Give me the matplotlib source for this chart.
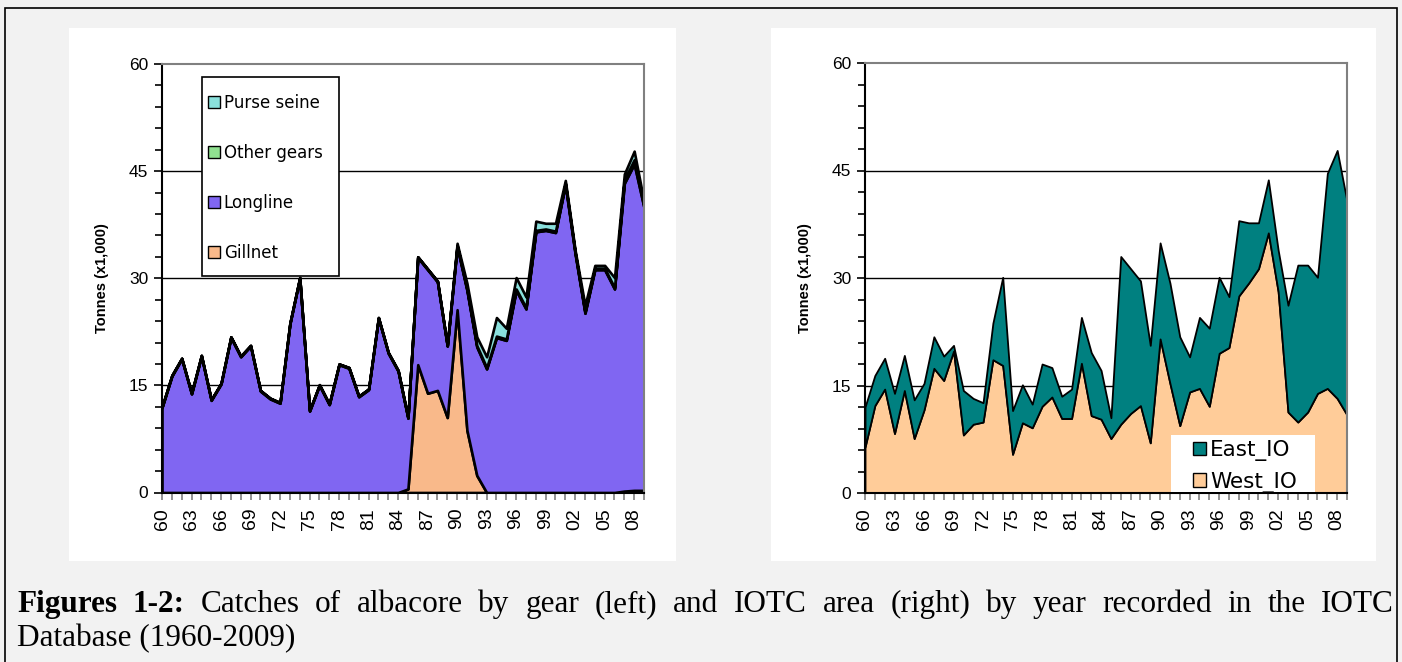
import numpy as np
import matplotlib.pyplot as plt
from matplotlib.patches import Rectangle, Patch

# Datos (miles de toneladas), 1960-2009
years = list(range(1960, 2010))

gillnet = [0.0] * 25 + [0.5, 17.9, 13.9, 14.3, 10.5, 25.6, 8.7, 2.4] + [0.0] * 14 + [0.2, 0.3, 0.3]

longline = [11.9, 16.3, 18.7, 13.8, 19.1, 12.9, 15.2, 21.7, 19.0, 20.5,
            14.2, 13.1, 12.5, 23.6, 30.0, 11.4, 15.0, 12.3, 17.9, 17.4,
            13.4, 14.4, 24.4, 19.5, 17.0, 9.9, 15.0, 17.3, 15.2, 10.0,
            8.8, 19.6, 18.0, 17.3, 21.7, 21.3, 28.3, 25.7, 36.5, 36.7,
            36.4, 43.1, 33.4, 25.1, 31.2, 31.2, 28.5, 43.1, 45.7, 39.6]

other_gears = [0.1] * 30 + [0.2] * 17 + [0.5, 0.6, 0.3]

purse_seine = [0.0] * 30 + [0.3, 0.8, 1.2, 1.5, 2.6, 1.5, 1.6, 1.5, 1.3, 0.8,
                            1.1, 0.4, 0.3, 0.9, 0.4, 0.4, 1.4, 0.8, 1.2, 0.5]

west_io = [6.4, 12.2, 14.5, 8.3, 14.3, 7.6, 11.6, 17.4, 15.7, 19.8,
           8.1, 9.6, 9.9, 18.6, 17.8, 5.4, 9.8, 9.1, 12.1, 13.4,
           10.4, 10.4, 18.1, 10.8, 10.3, 7.6, 9.6, 11.1, 12.2, 7.0,
           21.5, 15.3, 9.4, 14.1, 14.6, 12.1, 19.5, 20.3, 27.5, 29.3,
           31.3, 36.3, 28.1, 11.3, 9.9, 11.3, 13.9, 14.6, 13.2, 10.9]

east_io = [5.6, 4.2, 4.3, 5.6, 4.9, 5.4, 3.7, 4.4, 3.4, 0.8,
           6.2, 3.6, 2.7, 5.1, 12.3, 6.1, 5.3, 3.3, 5.9, 4.1,
           3.1, 4.1, 6.4, 8.8, 6.8, 2.9, 23.4, 20.2, 17.4, 13.6,
           13.4, 14.0, 12.4, 4.9, 9.9, 10.9, 10.6, 7.1, 10.5, 8.4,
           6.4, 7.4, 5.8, 14.9, 21.9, 20.5, 16.2, 30.0, 34.6, 29.8]

gear_labels = ['Gillnet', 'Longline', 'Other gears', 'Purse seine']
gear_colors = ['#F9B98A', '#8066F2', '#90E090', '#8AE0DC']
area_labels = ['West_IO', 'East_IO']
area_colors = ['#FFCC99', '#008080']

W, H = 1402, 662
fig = plt.figure(figsize=(W / 100, H / 100), dpi=100)
fig.patch.set_facecolor('#F2F2F2')


def fx(px):
    return px / W


def fy(py):
    return 1 - py / H


# marco exterior y paneles blancos
fig.add_artist(Rectangle((fx(5), fy(690)), fx(1392), (690 - 8) / H, transform=fig.transFigure,
                         facecolor='none', edgecolor='black', lw=1.2, zorder=-1))
for x0, x1 in [(69, 676), (771, 1376)]:
    fig.add_artist(Rectangle((fx(x0), fy(561)), fx(x1 - x0), (561 - 28) / H,
                             transform=fig.transFigure, facecolor='white',
                             edgecolor='none', zorder=-1))

x = np.arange(len(years))


def style_axes(ax):
    ax.set_xlim(0, len(years) - 1)
    ax.set_ylim(0, 60)
    ax.set_yticks([0, 15, 30, 45, 60])
    ax.set_yticks(np.arange(0, 61, 3), minor=True)
    ax.set_xticks(x[::3])
    ax.set_xticks(x, minor=True)
    ax.set_xticklabels([f'{y % 100:02d}' for y in years[::3]], rotation=90,
                       family='Liberation Sans', fontsize=14)
    ax.set_yticklabels(['0', '15', '30', '45', '60'], family='Liberation Sans', fontsize=12.5)
    ax.tick_params(axis='y', which='both', direction='out', length=6, width=1.2,
                   color='black', pad=4)
    ax.tick_params(axis='y', which='minor', length=5)
    ax.tick_params(axis='x', which='both', direction='out', length=5, width=1.2,
                   color='#808080', pad=6)
    for s in ['left', 'bottom']:
        ax.spines[s].set_color('black')
        ax.spines[s].set_linewidth(1.5)
    for s in ['top', 'right']:
        ax.spines[s].set_color('#808080')
        ax.spines[s].set_linewidth(1.5)
    for v in [15, 30, 45]:
        ax.axhline(v, color='black', lw=1.0, zorder=0.5)
    ax.set_ylabel('Tonnes (x1,000)', family='Liberation Sans', fontweight='bold',
                  fontsize=10.5, labelpad=14)
    ax.set_facecolor('white')


# Gráfico izquierdo: por arte
ax1 = fig.add_axes([fx(162), fy(492.5), fx(482), 428.5 / H])
ax1.stackplot(x, gillnet, longline, other_gears, purse_seine, colors=gear_colors,
              edgecolor='black', linewidth=1.9, zorder=2)
style_axes(ax1)
fig.add_artist(Rectangle((fx(202), fy(276)), fx(137), (276 - 77) / H,
                         transform=fig.transFigure, facecolor='white',
                         edgecolor='black', lw=1.2, zorder=4))
handles = [Patch(facecolor=c, edgecolor='black', lw=1.0) for c in gear_colors]
leg1 = fig.legend(handles[::-1], gear_labels[::-1], loc='upper left',
                  bbox_to_anchor=(fx(208), fy(94)), bbox_transform=fig.transFigure,
                  borderaxespad=0, borderpad=0, frameon=False,
                  prop={'family': 'DejaVu Sans', 'size': 12},
                  handlelength=0.7, handleheight=0.7, handletextpad=0.25,
                  labelspacing=1.92)
leg1.set_zorder(5)

# Gráfico derecho: por zona
ax2 = fig.add_axes([fx(865), fy(493), fx(482), 430 / H])
ax2.stackplot(x, west_io, east_io, colors=area_colors, edgecolor='black',
              linewidth=1.3, zorder=2)
style_axes(ax2)
fig.add_artist(Rectangle((fx(1171), fy(492)), fx(144), (492 - 435) / H,
                         transform=fig.transFigure, facecolor='white',
                         edgecolor='none', zorder=4))
handles2 = [Patch(facecolor=c, edgecolor='black', lw=1.0) for c in area_colors]
leg2 = fig.legend(handles2[::-1], area_labels[::-1], loc='upper left',
                  bbox_to_anchor=(fx(1193), fy(440)), bbox_transform=fig.transFigure,
                  borderaxespad=0, borderpad=0, frameon=False,
                  prop={'family': 'DejaVu Sans', 'size': 15.5},
                  handlelength=0.6, handleheight=0.6, handletextpad=0.2,
                  labelspacing=0.5)
leg2.set_zorder(5)

# Pie de figura (justificado)
cap_size = 22.5
line1 = [('Figures', 'bold'), ('1-2:', 'bold'), ('Catches', 'normal'), ('of', 'normal'),
         ('albacore', 'normal'), ('by', 'normal'), ('gear', 'normal'), ('(left)', 'normal'),
         ('and', 'normal'), ('IOTC', 'normal'), ('area', 'normal'), ('(right)', 'normal'),
         ('by', 'normal'), ('year', 'normal'), ('recorded', 'normal'), ('in', 'normal'),
         ('the', 'normal'), ('IOTC', 'normal')]
renderer = fig.canvas.get_renderer()
texts = [fig.text(0, fy(612), w, fontsize=cap_size, family='Liberation Serif',
                  fontweight=wt, va='baseline', ha='left') for w, wt in line1]
widths = [t.get_window_extent(renderer).width for t in texts]
gap = (1394 - 17 - sum(widths)) / (len(texts) - 1)
pos = 17
for t, wd in zip(texts, widths):
    t.set_x(fx(pos))
    pos += wd + gap
fig.text(fx(17), fy(646), 'Database (1960-2009)', fontsize=cap_size,
         family='Liberation Serif', va='baseline', ha='left')

fig.savefig('out.png', dpi=100, facecolor=fig.get_facecolor())
